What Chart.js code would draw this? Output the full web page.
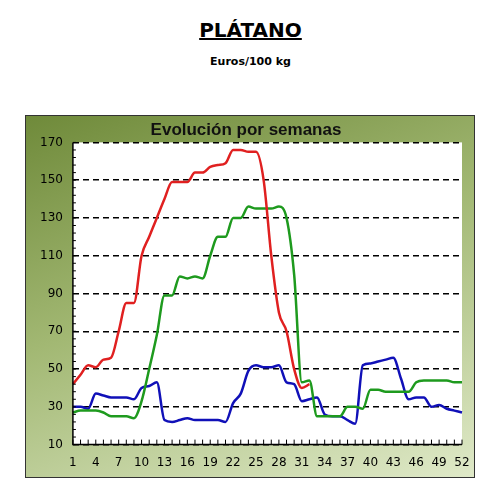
<!DOCTYPE html>
<html>
<head>
<meta charset="utf-8">
<script src="https://cdn.jsdelivr.net/npm/chart.js@4"></script>
<style>
  body { margin: 0; width: 501px; height: 501px; background: #fff; font-family: "DejaVu Sans", sans-serif; position: relative; }
  #t1 { position: absolute; top: 18px; left: 0; width: 501px; text-align: center; font: bold 20px "DejaVu Sans", sans-serif; text-decoration: underline; }
  #t2 { position: absolute; top: 55px; left: 0; width: 501px; text-align: center; font: bold 11px "DejaVu Sans", sans-serif; }
  #panel { position: absolute; left: 25px; top: 115px; width: 448px; height: 361px; border: 1px solid #333;
           background: linear-gradient(160deg, #6f8a3a 0%, #a2b873 45%, #dfe9c8 100%); }
</style>
</head>
<body>
<div id="t1">PLÁTANO</div>
<div id="t2">Euros/100 kg</div>
<div id="panel"><canvas id="c" width="448" height="361"></canvas></div>
<script>
const weeks = Array.from({ length: 52 }, (_, i) => String(i + 1));
const serieRoja = [42, 47, 52, 51, 55, 56, 70, 85, 85, 110, 120, 130, 140, 149, 149, 149, 154, 154, 157, 158, 159, 166, 166, 165, 165, 150, 110, 80, 70, 50, 40, 42];
const serieVerde = [27, 28, 28, 28, 27, 25, 25, 25, 24, 33, 50, 68, 89, 89, 99, 98, 99, 98, 110, 120, 120, 130, 130, 136, 135, 135, 135, 136, 130, 100, 43, 44, 25, 25, 25, 25, 30, 30, 29, 39, 39, 38, 38, 38, 38, 43, 44, 44, 44, 44, 43, 43];
const serieAzul = [30, 30, 29, 37, 36, 35, 35, 35, 34, 40, 41, 43, 23, 22, 23, 24, 23, 23, 23, 23, 22, 32, 37, 49, 52, 51, 51, 52, 43, 42, 33, 34, 35, 26, 25, 25, 23, 21, 52, 53, 54, 55, 56, 45, 34, 35, 35, 30, 31, 29, 28, 27];
const yTicks = [10, 30, 50, 70, 90, 110, 130, 150, 170];

// white plot area + minor tick marks
const plotBg = {
    id: 'plotBg',
    beforeDraw(chart) {
        const { ctx, chartArea: a } = chart;
        ctx.save();
        ctx.fillStyle = '#fff';
        ctx.fillRect(a.left, a.top, a.right - a.left, a.bottom - a.top);
        ctx.restore();
    },
    afterDraw(chart) {
        const { ctx, chartArea: a, scales } = chart;
        ctx.save();
        ctx.strokeStyle = '#000';
        ctx.lineWidth = 1.5;
        ctx.beginPath();
        ctx.moveTo(a.left, a.top); ctx.lineTo(a.left, a.bottom); ctx.lineTo(a.right, a.bottom);
        ctx.stroke();
        ctx.lineWidth = 1;
        ctx.beginPath();
        for (let v = 10; v <= 170; v += 4) {
            const y = scales.y.getPixelForValue(v);
            ctx.moveTo(a.left, y); ctx.lineTo(a.left + 3, y);
        }
        weeks.forEach((w, i) => {
            const x = scales.x.getPixelForValue(i);
            ctx.moveTo(x, a.bottom); ctx.lineTo(x, a.bottom - 5);
        });
        ctx.stroke();
        ctx.restore();
    }
};

const ds = (data, color) => ({ data, borderColor: color, borderWidth: 2.5, pointRadius: 0, tension: 0.4, cubicInterpolationMode: 'monotone', fill: false });

new Chart(document.getElementById('c'), {
    type: 'line',
    data: {
        labels: weeks,
        datasets: [ds(serieRoja, '#e02020'), ds(serieVerde, '#1e9a1e'), ds(serieAzul, '#1010b8')]
    },
    plugins: [plotBg],
    options: {
        responsive: false,
        animation: false,
        layout: { padding: { left: 4, right: 12, top: 0, bottom: 4 } },
        plugins: {
            legend: { display: false },
            tooltip: { enabled: false },
            title: { display: true, text: 'Evolución por semanas', color: '#111', font: { family: 'Liberation Sans', size: 17, weight: 'bold' }, padding: { top: 4, bottom: 2 } }
        },
        scales: {
            x: {
                offset: false,
                grid: { display: false },
                border: { display: false },
                ticks: {
                    autoSkip: false, maxRotation: 0, color: '#000', font: { family: 'DejaVu Sans', size: 12 },
                    callback: (v, i) => (i % 3 === 0 ? weeks[i] : '')
                }
            },
            y: {
                min: 10, max: 170,
                afterBuildTicks: (s) => { s.ticks = yTicks.map(v => ({ value: v })); },
                grid: { color: '#000', lineWidth: 1.5, drawTicks: false, tickBorderDash: [], },
                border: { display: false, dash: [6, 4] },
                ticks: { color: '#000', padding: 10, font: { family: 'DejaVu Sans', size: 12 } }
            }
        }
    }
});
</script>
</body>
</html>
